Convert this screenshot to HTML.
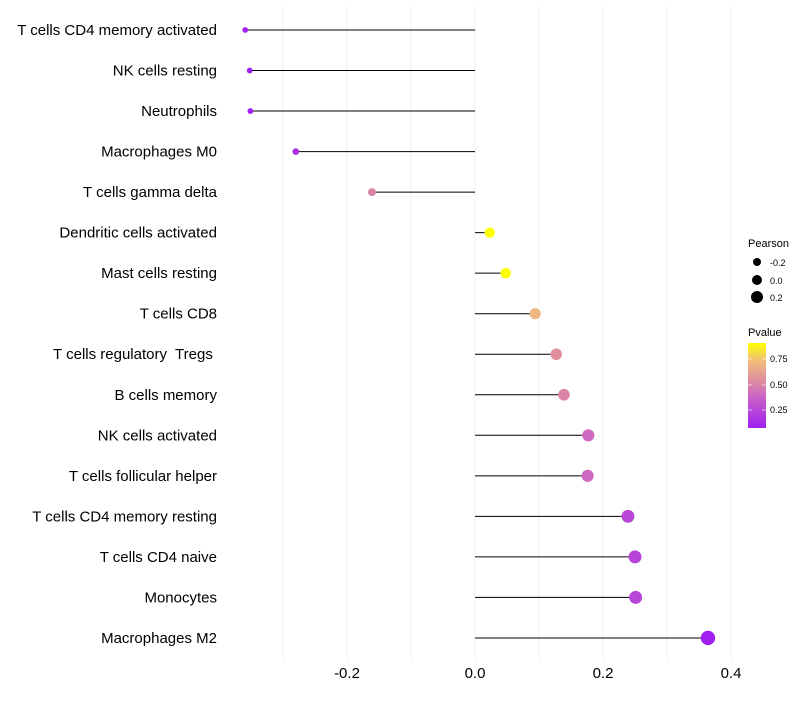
<!DOCTYPE html>
<html><head><meta charset="utf-8"><style>
body{margin:0;background:#fff;font-family:"Liberation Sans",sans-serif}
text{white-space:pre}
</style></head><body>
<svg id="c" width="800" height="700" font-family="Liberation Sans, sans-serif">
<defs><linearGradient id="pg" x1="0" y1="1" x2="0" y2="0">
<stop offset="0" stop-color="#a020f0"/><stop offset="0.35" stop-color="#c860c8"/><stop offset="0.55" stop-color="#de8ca0"/><stop offset="0.8" stop-color="#f2c078"/><stop offset="1" stop-color="#ffff00"/></linearGradient></defs>
<g id="grid"></g><g id="marks"></g><g id="labels"></g><g id="ticks"></g>
<g font-size="10">
<text x="748" y="247" font-size="11">Pearson</text>
<circle cx="757" cy="262" r="4" fill="#000"/><text x="770" y="266" font-size="9">-0.2</text>
<circle cx="757" cy="280" r="5" fill="#000"/><text x="770" y="284" font-size="9">0.0</text>
<circle cx="757" cy="297" r="6" fill="#000"/><text x="770" y="301" font-size="9">0.2</text>
</g>
<g>
<text x="748" y="336" font-size="11">Pvalue</text>
<rect x="748" y="343" width="18" height="85" fill="url(#pg)"/>
<g stroke="#fff" stroke-opacity="0.6"><line x1="748" x2="752" y1="359" y2="359"/><line x1="762" x2="766" y1="359" y2="359"/><line x1="748" x2="752" y1="385" y2="385"/><line x1="762" x2="766" y1="385" y2="385"/><line x1="748" x2="752" y1="410" y2="410"/><line x1="762" x2="766" y1="410" y2="410"/></g>
<text x="770" y="362" font-size="9">0.75</text><text x="770" y="388" font-size="9">0.50</text><text x="770" y="413" font-size="9">0.25</text>
</g>
</svg>
<script>
const categories=["T cells CD4 memory activated","NK cells resting","Neutrophils","Macrophages M0","T cells gamma delta","Dendritic cells activated","Mast cells resting","T cells CD8","T cells regulatory  Tregs ","B cells memory","NK cells activated","T cells follicular helper","T cells CD4 memory resting","T cells CD4 naive","Monocytes","Macrophages M2"];
const pearson=[-0.359,-0.352,-0.351,-0.280,-0.161,0.023,0.048,0.094,0.127,0.139,0.177,0.176,0.239,0.250,0.251,0.364];
const pvalue=[0.05,0.06,0.06,0.15,0.5,0.95,0.9,0.7,0.55,0.5,0.4,0.4,0.25,0.24,0.25,0.04];
const tickValues=[-0.2,0.0,0.2,0.4];
const tickLabels=["-0.2","0.0","0.2","0.4"];
const NS="http://www.w3.org/2000/svg";
const xS=v=>475+v*640;
const yS=i=>30+i*40.53;
const rS=v=>Math.max(2,5+6*v);
const stops=[[0,[160,32,240]],[0.35,[200,96,200]],[0.55,[222,140,160]],[0.8,[242,192,120]],[1,[255,255,0]]];
function col(p){let t=(p-0.074)/(0.907-0.074);t=Math.max(0,Math.min(1,t));
for(let k=1;k<stops.length;k++){if(t<=stops[k][0]){const a=stops[k-1],b=stops[k],f=(t-a[0])/(b[0]-a[0]);
return "rgb("+a[1].map((c,j)=>Math.round(c+(b[1][j]-c)*f)).join(",")+")";}}return "rgb(255,255,0)";}
function mk(tag,at,parent){const e=document.createElementNS(NS,tag);for(const k in at)e.setAttribute(k,at[k]);document.getElementById(parent).appendChild(e);return e;}
for(let v=-0.3;v<=0.41;v+=0.1){const l=mk("line",{x1:xS(v),x2:xS(v),y1:5,y2:660,stroke:"#f0f0f0","stroke-width":1},"grid");

}
categories.forEach((c,i)=>{
const ln=mk("line",{x1:xS(0),x2:xS(pearson[i]),y1:yS(i),y2:yS(i),stroke:"#000","stroke-width":1},"marks");


const pt=mk("circle",{cx:xS(pearson[i]),cy:yS(i),r:rS(pearson[i]),fill:col(pvalue[i])},"marks");


const t=mk("text",{x:217,y:yS(i)+5,"text-anchor":"end","font-size":15,fill:"#000"},"labels");
t.textContent=c;


});
tickValues.forEach((v,i)=>{const t=mk("text",{x:xS(v),y:678,"text-anchor":"middle","font-size":15,fill:"#000"},"ticks");
t.textContent=tickLabels[i];

});
</script>
</body></html>
